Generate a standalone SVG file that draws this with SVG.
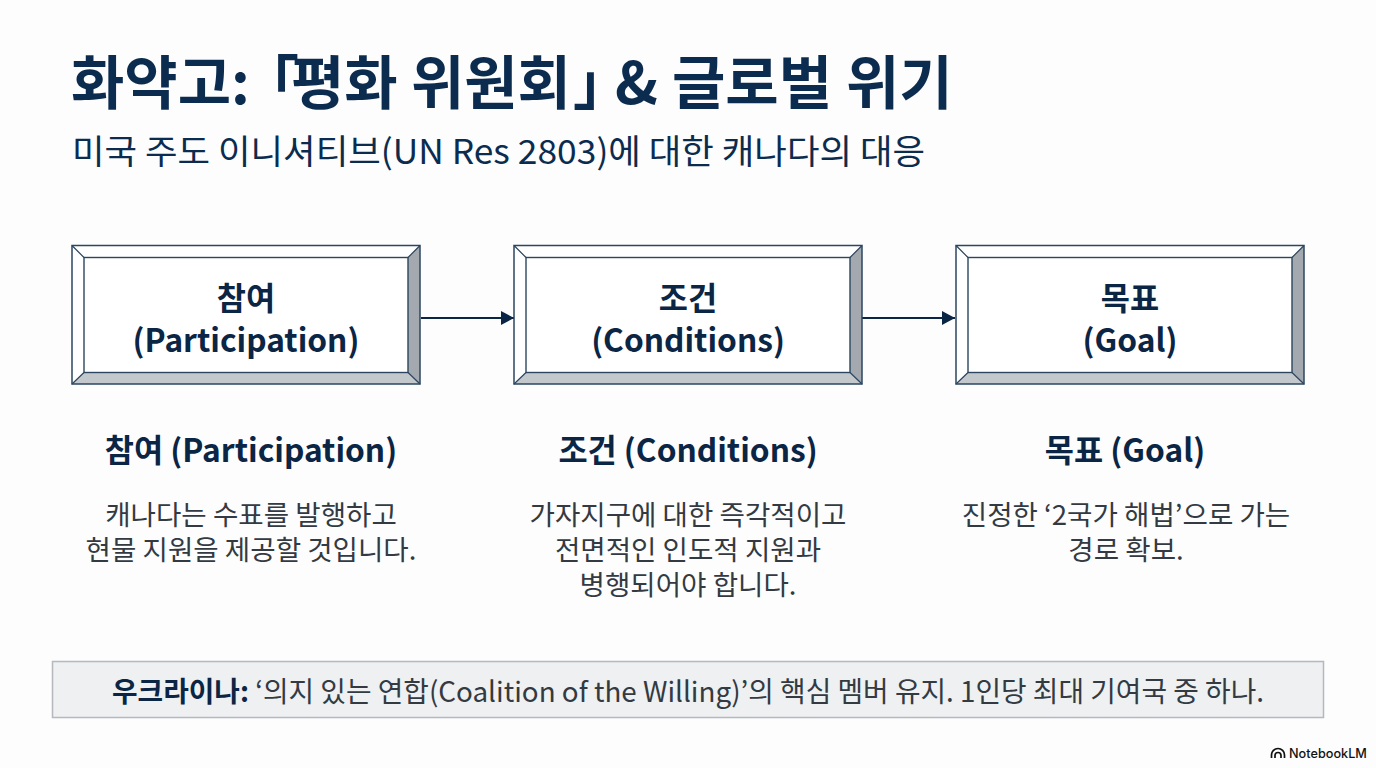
<svg xmlns="http://www.w3.org/2000/svg" width="1376" height="768" viewBox="0 0 1376 768">
<defs>
<marker id="ah" markerUnits="userSpaceOnUse" markerWidth="14" markerHeight="16" refX="13" refY="7" orient="auto"><path d="M0 0L13 7L0 14Z" fill="#0b2545"/></marker>
<g id="bevel">
<rect x="0" y="0" width="348" height="138.500" fill="#fff"/>
<path d="M348 0L336 12V127L348 138.500Z" fill="#a3a9ae"/>
<path d="M0 138.500L12 127H336L348 138.500Z" fill="#c3c8cc"/>
<path d="M0 0L12 12M348 0L336 12M0 138.500L12 127M348 138.500L336 127" stroke="#2c4660" stroke-width="1.200" fill="none"/>
<rect x="0" y="0" width="348" height="138.500" fill="none" stroke="#2c4660" stroke-width="1.500"/>
<rect x="12" y="12" width="324" height="115" fill="#fff" stroke="#2c4660" stroke-width="1.400"/>
</g>
</defs>
<style>
text{font-family:"Noto Sans CJK KR","Noto Sans",sans-serif;text-anchor:middle}
.t{font-size:58px;font-weight:700;fill:#0c2c4f;text-anchor:start}
.s{font-size:34px;font-weight:400;fill:#0c2c4f;text-anchor:start}
.n{font-size:31.700px;font-weight:700;fill:#0b2545}
.h{font-size:31.700px;font-weight:700;fill:#0b2545}
.b{font-size:27.600px;font-weight:400;fill:#333a42}
.f{font-size:28px;font-weight:400;fill:#333a42}
.fb{font-weight:700;fill:#0b2545}
.l{font-family:Inter,"Liberation Sans",sans-serif;font-size:12.700px;font-weight:500;fill:#111;text-anchor:start}
</style>
<rect width="1376" height="768" fill="#fdfdfd"/>
<g id="title">
<text class="t" y="104"><tspan x="71">화약고: </tspan><tspan x="241">「</tspan><tspan x="291">평화 위원회</tspan><tspan x="573">」 </tspan><tspan x="615">&amp; </tspan><tspan x="672">글로벌 </tspan><tspan x="846">위기</tspan></text>
<text class="s" x="72" y="164" textLength="853" lengthAdjust="spacingAndGlyphs">미국 주도 이니셔티브(UN Res 2803)에 대한 캐나다의 대응</text>
</g>
<g id="connectors">
<path d="M421 318H514" stroke="#0b2545" stroke-width="2" fill="none" marker-end="url(#ah)"/>
<path d="M862 318H955" stroke="#0b2545" stroke-width="2" fill="none" marker-end="url(#ah)"/>
</g>
<g id="node-participation">
<use href="#bevel" x="72" y="245.500"/>
<text class="n" x="246" y="310">참여</text>
<text class="n" x="246" y="351.500">(Participation)</text>
</g>
<g id="node-conditions">
<use href="#bevel" x="514" y="245.500"/>
<text class="n" x="688" y="310">조건</text>
<text class="n" x="688" y="351.500">(Conditions)</text>
</g>
<g id="node-goal">
<use href="#bevel" x="956" y="245.500"/>
<text class="n" x="1130" y="310">목표</text>
<text class="n" x="1130" y="351.500">(Goal)</text>
</g>
<g id="desc-participation">
<text class="h" x="251" y="461.500">참여 (Participation)</text>
<text class="b" x="251" y="525">캐나다는 수표를 발행하고</text>
<text class="b" x="251" y="560">현물 지원을 제공할 것입니다.</text>
</g>
<g id="desc-conditions">
<text class="h" x="688" y="461.500">조건 (Conditions)</text>
<text class="b" x="688" y="525">가자지구에 대한 즉각적이고</text>
<text class="b" x="688" y="560">전면적인 인도적 지원과</text>
<text class="b" x="688" y="595">병행되어야 합니다.</text>
</g>
<g id="desc-goal">
<text class="h" x="1125" y="461.500">목표 (Goal)</text>
<text class="b" x="1126" y="525">진정한 ‘2국가 해법’으로 가는</text>
<text class="b" x="1126" y="560">경로 확보.</text>
</g>
<g id="footer">
<rect x="52.500" y="661.500" width="1271" height="56" fill="#eef0f2" stroke="#b5b9bd" stroke-width="1.500"/>
<text class="f" x="688" y="702" textLength="1152" lengthAdjust="spacingAndGlyphs"><tspan class="fb">우크라이나:</tspan> ‘의지 있는 연합(Coalition of the Willing)’의 핵심 멤버 유지. 1인당 최대 기여국 중 하나.</text>
</g>
<g id="logo">
<path d="M1271.500 758V755A6.500 6.500 0 0 1 1284.500 755V758M1275 758V755.500A3 3 0 0 1 1281 755.500V758" fill="none" stroke="#111" stroke-width="1.700"/>
<text class="l" x="1289" y="758">NotebookLM</text>
</g>
</svg>
